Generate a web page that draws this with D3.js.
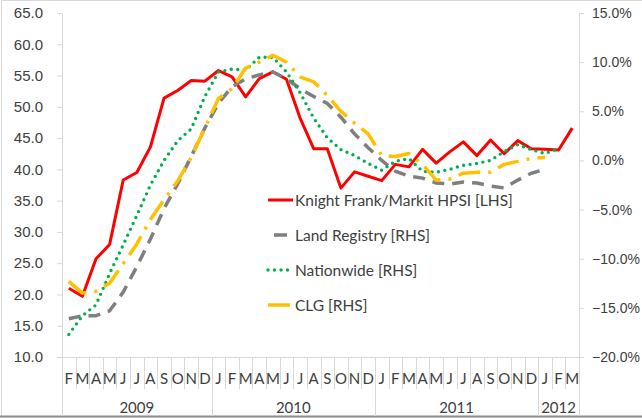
<!DOCTYPE html>
<html>
<head>
<meta charset="utf-8">
<script src="https://cdn.jsdelivr.net/npm/d3@7"></script>
<style>
  body { margin: 0; background: #fff; }
  svg { display: block; font-family: Lato, 'Open Sans', sans-serif; }
</style>
</head>
<body>
<div id="chart"></div>
<script>
// Months Feb 2009 .. Mar 2012
const monthLetters = ['F','M','A','M','J','J','A','S','O','N','D',
  'J','F','M','A','M','J','J','A','S','O','N','D',
  'J','F','M','A','M','J','J','A','S','O','N','D',
  'J','F','M']
const yearLabels = ['2009', '2010', '2011', '2012']
const yearMonthCounts = [11, 12, 12, 3]

const leftTicks = [10, 15, 20, 25, 30, 35, 40, 45, 50, 55, 60, 65]
const rightTicks = [-20, -15, -10, -5, 0, 5, 10, 15]

// Knight Frank/Markit HPSI, index [LHS]
const knightFrank = [21.0, 19.7, 25.7, 28.0, 38.3, 39.5, 43.6, 51.4, 52.6, 54.2, 54.1,
  55.8, 54.8, 51.6, 54.5, 55.6, 54.4, 48.2, 43.3, 43.3, 37.0, 39.6, 38.9,
  38.2, 40.8, 40.4, 43.2, 41.0, 42.8, 44.4, 42.2, 44.7, 42.5, 44.6, 43.3,
  43.2, 43.1, 46.6]
// annual % change [RHS]
const landRegistry = [-16.1, -15.8, -15.8, -15.3, -13.4, -10.8, -8.0, -4.9, -2.4, 0.4, 3.3,
  5.8, 7.5, 8.3, 8.7, 9.0, 8.3, 7.3, 6.5, 5.8, 4.4, 2.7, 1.3,
  0.0, -1.1, -1.6, -1.8, -2.3, -2.4, -2.2, -2.3, -2.6, -2.8, -2.0, -1.3,
  -0.9]
const nationwide = [-17.7, -15.8, -14.7, -11.5, -8.6, -5.6, -2.5, 0.0, 2.0, 3.2, 6.5,
  9.0, 9.3, 9.2, 10.5, 10.5, 9.0, 6.9, 4.3, 2.3, 1.1, 0.5, -0.3,
  -1.0, -0.1, 0.2, -1.1, -1.2, -0.9, -0.5, -0.3, 0.0, 0.9, 1.6, 1.1,
  0.7, 1.2]
const clg = [-12.3, -13.5, -13.3, -12.5, -10.5, -8.5, -6.0, -4.0, -2.1, 0.3, 3.3,
  6.3, 7.3, 9.4, 10.0, 10.7, 10.0, 8.5, 8.0, 6.6, 5.0, 3.8, 2.7,
  0.5, 0.4, 0.7, -0.4, -2.0, -1.9, -1.3, -1.2, -1.2, -0.4, -0.1, 0.2,
  0.3]

const width = 642, height = 418
const plotLeft = 62, plotRight = 579, plotTop = 13, plotBottom = 357
const textColour = '#404040', gridColour = '#d9d9d9'

const svg = d3.select('#chart').append('svg')
  .attr('width', width).attr('height', height)
  .attr('viewBox', `0 0 ${width} ${height}`)

// chart frame (top and left edges, dark bottom edge)
svg.append('path')
  .attr('d', `M1.5,416 V0.5 H${width}`)
  .style('fill', 'none').style('stroke', gridColour)
svg.append('line')
  .attr('x1', 0).attr('x2', width).attr('y1', 416.5).attr('y2', 416.5)
  .style('stroke', '#8a8a8a').style('stroke-width', 2)

const x = d3.scaleBand().domain(d3.range(monthLetters.length))
  .range([plotLeft, plotRight]).padding(0)
const cx = i => x(i) + x.bandwidth() / 2
const yL = d3.scaleLinear().domain([10, 65]).range([plotBottom, plotTop])
const yR = d3.scaleLinear().domain([-20, 15]).range([plotBottom, plotTop])

function styleAxis(g, size) {
  g.select('.domain').style('stroke', gridColour)
  g.selectAll('.tick line').style('stroke', gridColour)
  g.selectAll('.tick text').style('fill', textColour).style('font-size', size)
}

svg.append('g')
  .attr('transform', `translate(${plotLeft},0)`)
  .call(d3.axisLeft(yL).tickValues(leftTicks).tickFormat(d3.format('.1f'))
    .tickSizeInner(5).tickSizeOuter(0).tickPadding(14))
  .call(styleAxis, '15px')

svg.append('g')
  .attr('transform', `translate(${plotRight},0)`)
  .call(d3.axisRight(yR).tickValues(rightTicks).tickFormat(d => d3.format('.1f')(d) + '%')
    .tickSizeInner(5).tickSizeOuter(0).tickPadding(8))
  .call(styleAxis, '14px')

// category axis with two levels
const gX = svg.append('g')
gX.append('line')
  .attr('x1', plotLeft).attr('x2', plotRight).attr('y1', plotBottom + 0.5).attr('y2', plotBottom + 0.5)
  .style('stroke', gridColour)

const yearStarts = d3.cumsum([0, ...yearMonthCounts]).slice(0, -1)
const boundaries = d3.range(monthLetters.length + 1)
gX.selectAll('.sep')
  .data(boundaries)
  .join('line')
  .classed('sep', true)
  .attr('x1', d => Math.round(plotLeft + d * x.bandwidth()) + 0.5)
  .attr('x2', d => Math.round(plotLeft + d * x.bandwidth()) + 0.5)
  .attr('y1', plotBottom)
  .attr('y2', d => (yearStarts.includes(d) || d === monthLetters.length) ? 416 : 389)
  .style('stroke', gridColour)

gX.selectAll('.month')
  .data(monthLetters)
  .join('text')
  .classed('month', true)
  .attr('x', (d, i) => cx(i))
  .attr('y', 378)
  .attr('text-anchor', 'middle')
  .attr('dominant-baseline', 'central')
  .style('fill', textColour).style('font-size', '15px')
  .text(d => d)

gX.selectAll('.year')
  .data(yearLabels)
  .join('text')
  .classed('year', true)
  .attr('x', (d, i) => plotLeft + (yearStarts[i] + yearMonthCounts[i] / 2) * x.bandwidth())
  .attr('y', 407)
  .attr('text-anchor', 'middle')
  .attr('dominant-baseline', 'central')
  .style('fill', textColour).style('font-size', '15px')
  .text(d => d)

// series
const series = [
  { name: 'Knight Frank/Markit HPSI [LHS]', values: knightFrank, y: yL, colour: '#ff0000', width: 3, dash: null, cap: 'butt' },
  { name: 'Land Registry [RHS]', values: landRegistry, y: yR, colour: '#7f7f7f', width: 3.5, dash: '12 8', cap: 'butt' },
  { name: 'Nationwide [RHS]', values: nationwide, y: yR, colour: '#00b050', width: 3.4, dash: '0 6.5', cap: 'round' },
  { name: 'CLG [RHS]', values: clg, y: yR, colour: '#ffc000', width: 3.5, dash: '22 8 3 8', cap: 'butt' }
]

const gLines = svg.append('g')
gLines.selectAll('.series')
  .data(series)
  .join('path')
  .classed('series', true)
  .attr('d', s => d3.line().x((d, i) => cx(i)).y(d => s.y(d))(s.values))
  .style('fill', 'none')
  .style('stroke', s => s.colour)
  .style('stroke-width', s => s.width)
  .style('stroke-dasharray', s => s.dash)
  .style('stroke-linecap', s => s.cap)
  .style('stroke-linejoin', 'round')

// legend
const legendY = d3.scaleLinear().domain([0, 1]).range([200, 235])
const gLegend = svg.append('g')
const items = gLegend.selectAll('.item')
  .data(series)
  .join('g')
  .classed('item', true)
  .attr('transform', (d, i) => `translate(268,${legendY(i)})`)

items.append('line')
  .attr('x1', 0).attr('x2', 25).attr('y1', 0).attr('y2', 0)
  .style('stroke', s => s.colour)
  .style('stroke-width', s => s.width)
  .style('stroke-dasharray', (s, i) => i === 1 ? '0 6 13 6' : s.dash)
  .style('stroke-linecap', s => s.cap)

items.append('text')
  .attr('x', 27).attr('y', 0)
  .attr('dominant-baseline', 'central')
  .style('fill', textColour).style('font-size', '15.5px')
  .text(s => s.name)
</script>
</body>
</html>
